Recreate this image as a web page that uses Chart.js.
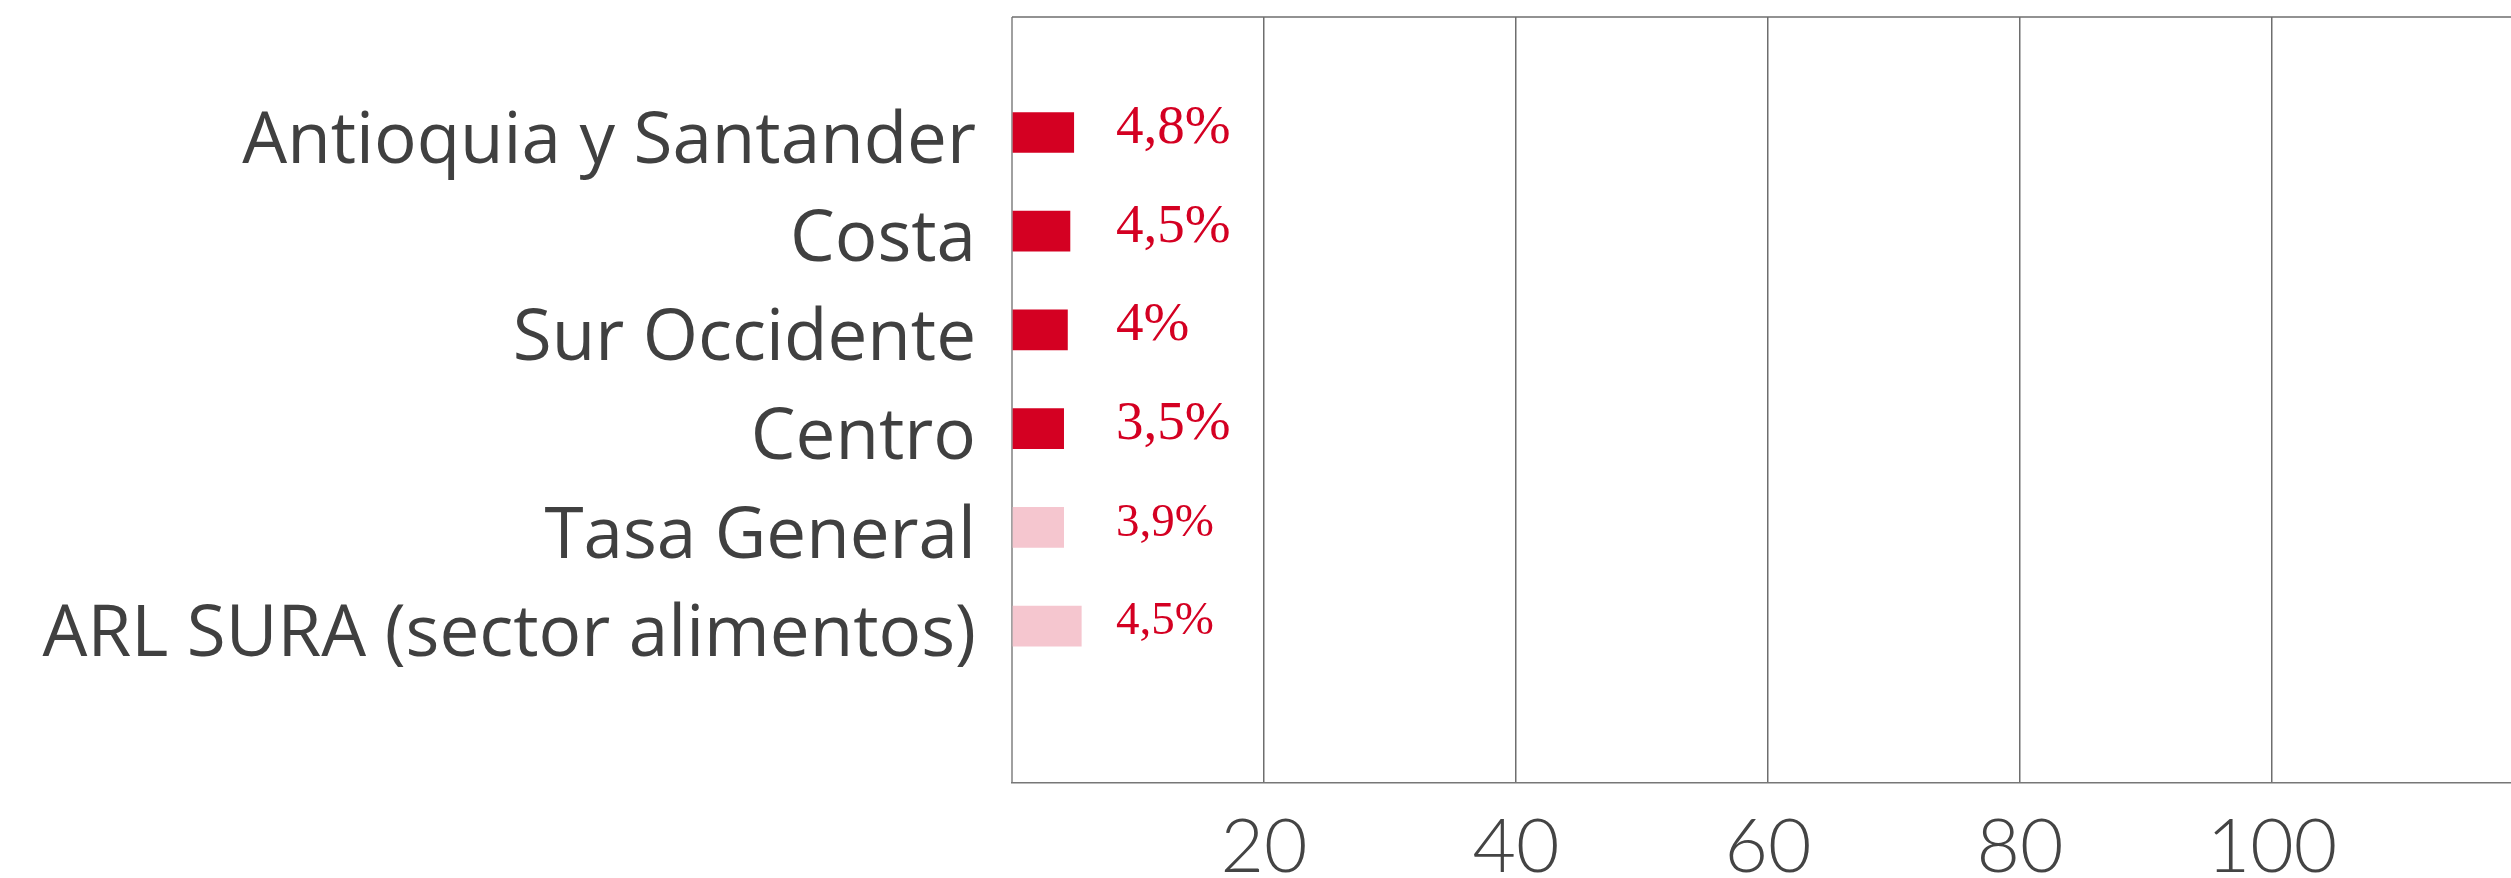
<!DOCTYPE html>
<html>
<head>
<meta charset="utf-8">
<script src="https://cdn.jsdelivr.net/npm/chart.js@4.4.1/dist/chart.umd.min.js"></script>
<style>
  html, body { margin: 0; padding: 0; background: #fff; overflow: hidden; }
  #wrap { width: 2530px; height: 878px; }
</style>
</head>
<body>
<div id="wrap"><canvas id="barChart" width="2530" height="878"></canvas></div>
<script>
// Regions, bar lengths (as drawn) and the printed rates
const categories = ['Antioquia y Santander', 'Costa', 'Sur Occidente', 'Centro', 'Tasa General', 'ARL SURA (sector alimentos)'];
const barValues = [4.9, 4.6, 4.4, 4.1, 4.1, 5.5];
const valueLabels = ['4,8%', '4,5%', '4%', '3,5%', '3,9%', '4,5%'];
const xTicks = [20, 40, 60, 80, 100];

// styling
const red = '#d40022';
const pink = '#f5c6cf';
const barColors = [red, red, red, red, pink, pink];
const labelSizes = [55, 55, 55, 55, 47, 47];

// top line of the frame
const framePlugin = {
    id: 'frame',
    afterDraw(chart) {
        const { ctx, chartArea } = chart;
        ctx.save();
        ctx.strokeStyle = '#6e6e6e';
        ctx.lineWidth = 1.5;
        ctx.beginPath();
        ctx.moveTo(chartArea.left, chartArea.top);
        ctx.lineTo(chartArea.right, chartArea.top);
        ctx.stroke();
        ctx.restore();
    }
};

// percentage labels next to the bars
const valueLabelPlugin = {
    id: 'valueLabels',
    afterDatasetsDraw(chart) {
        const ctx = chart.ctx;
        const x0 = chart.scales.x.getPixelForValue(0);
        const meta = chart.getDatasetMeta(0);
        ctx.save();
        ctx.fillStyle = red;
        ctx.textAlign = 'left';
        ctx.textBaseline = 'middle';
        meta.data.forEach((bar, i) => {
            ctx.font = labelSizes[i] + 'px "Liberation Serif"';
            ctx.fillText(valueLabels[i], x0 + 104, bar.y - 4);
        });
        ctx.restore();
    }
};

const ctxBar = document.getElementById('barChart').getContext('2d');
new Chart(ctxBar, {
    type: 'bar',
    data: {
        datasets: [{
            data: barValues.map((v, i) => ({ x: v, y: i })),
            backgroundColor: barColors,
            barThickness: 40
        }]
    },
    plugins: [framePlugin, valueLabelPlugin],
    options: {
        indexAxis: 'y',
        responsive: false,
        animation: false,
        layout: { padding: { top: 17, right: 6, left: 0, bottom: 0 } },
        plugins: {
            legend: { display: false },
            tooltip: { enabled: false }
        },
        scales: {
            x: {
                type: 'linear',
                position: 'bottom',
                min: 0,
                max: 120,
                afterFit(scale) {
                    scale.height = 95;
                    scale.paddingLeft = 0;
                    scale.paddingRight = 0;
                },
                afterBuildTicks(scale) {
                    scale.ticks = [0, ...xTicks, 120].map(v => ({ value: v }));
                },
                ticks: {
                    callback: v => xTicks.includes(v) ? v : '',
                    font: { family: 'Lato', size: 75, weight: 300 },
                    color: '#444',
                    padding: 20,
                    maxRotation: 0,
                    autoSkip: false
                },
                grid: {
                    color: c => c.tick && c.tick.value === 0 ? '#a0a0a0' : '#6e6e6e',
                    lineWidth: c => c.tick && c.tick.value === 0 ? 2 : 1.5,
                    drawTicks: false
                },
                border: { color: '#777', width: 1.5 }
            },
            y: {
                type: 'linear',
                reverse: true,
                offset: false,
                min: -1.17,
                max: 6.59,
                afterFit(scale) {
                    scale.width = 1012;
                    scale.paddingTop = 0;
                    scale.paddingBottom = 0;
                },
                afterBuildTicks(scale) {
                    scale.ticks = categories.map((c, i) => ({ value: i }));
                },
                ticks: {
                    callback: v => categories[v],
                    font: { family: 'Open Sans', size: 71 },
                    color: '#404040',
                    padding: 28,
                    labelOffset: 10,
                    autoSkip: false
                },
                grid: { display: false },
                border: { display: false }
            }
        }
    }
});
</script>
</body>
</html>
